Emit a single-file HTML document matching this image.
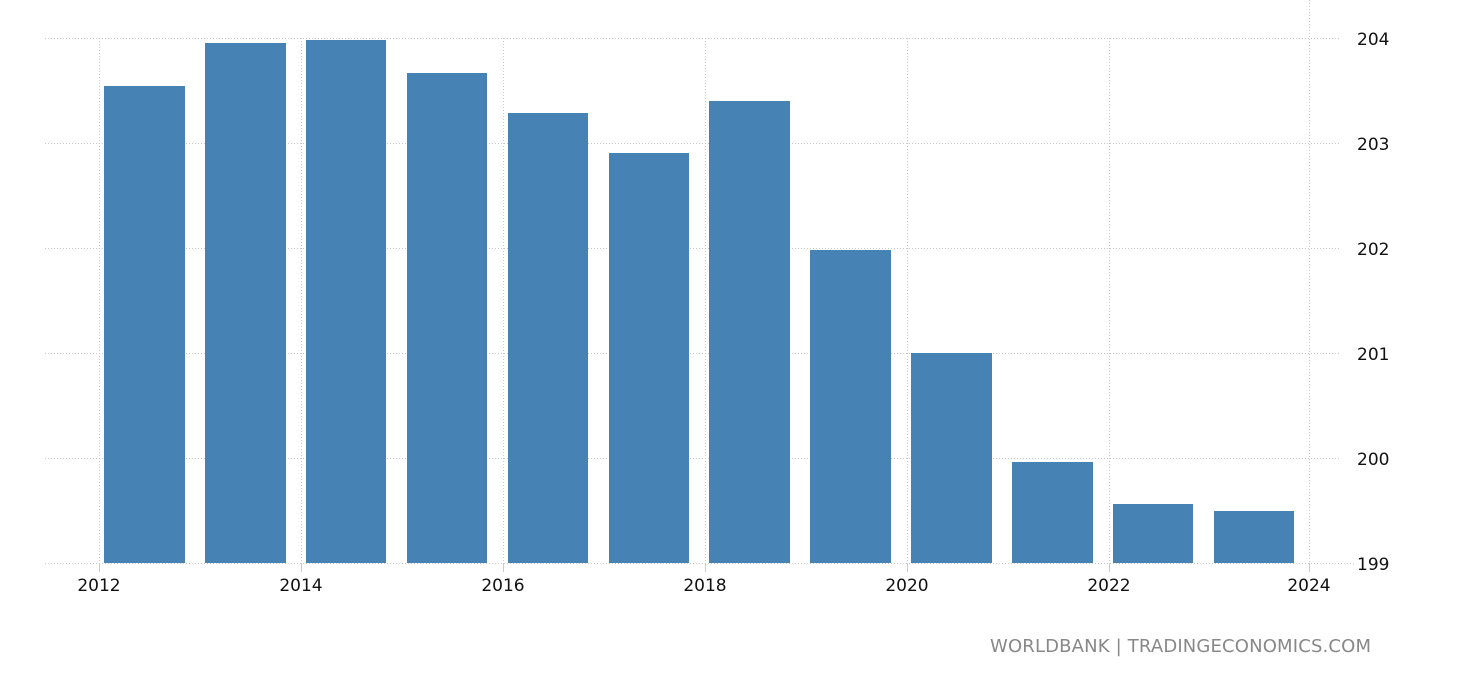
<!DOCTYPE html>
<html><head><style>
html,body{margin:0;padding:0;background:#fff;width:1460px;height:680px;overflow:hidden}
text{font-family:"DejaVu Sans","Liberation Sans",sans-serif}
</style></head><body>
<svg width="1460" height="680" xmlns="http://www.w3.org/2000/svg">
<g stroke="#c8c8c8" stroke-width="1" stroke-dasharray="1,2" fill="none">
<line x1="45" y1="38.5" x2="1340" y2="38.5"/>
<line x1="45" y1="143.5" x2="1340" y2="143.5"/>
<line x1="45" y1="248.5" x2="1340" y2="248.5"/>
<line x1="45" y1="353.5" x2="1340" y2="353.5"/>
<line x1="45" y1="458.5" x2="1340" y2="458.5"/>
<line x1="45" y1="563.5" x2="1355" y2="563.5"/>
<line x1="99.5" y1="38" x2="99.5" y2="563"/>
<line x1="301.5" y1="38" x2="301.5" y2="563"/>
<line x1="503.5" y1="38" x2="503.5" y2="563"/>
<line x1="705.5" y1="38" x2="705.5" y2="563"/>
<line x1="907.5" y1="38" x2="907.5" y2="563"/>
<line x1="1109.5" y1="38" x2="1109.5" y2="563"/>
<line x1="1309.5" y1="0" x2="1309.5" y2="563"/>
</g>
<g stroke="#ccc">
<line x1="99.5" y1="563" x2="99.5" y2="572"/><line x1="301.5" y1="563" x2="301.5" y2="572"/>
<line x1="503.5" y1="563" x2="503.5" y2="572"/><line x1="705.5" y1="563" x2="705.5" y2="572"/>
<line x1="907.5" y1="563" x2="907.5" y2="572"/><line x1="1109.5" y1="563" x2="1109.5" y2="572"/>
<line x1="1309.5" y1="563" x2="1309.5" y2="572"/>
</g>
<g fill="#4682b4">
<rect x="104" y="86" width="81" height="477"/>
<rect x="205" y="43" width="81" height="520"/>
<rect x="306" y="40" width="80" height="523"/>
<rect x="407" y="73" width="80" height="490"/>
<rect x="508" y="113" width="80" height="450"/>
<rect x="609" y="153" width="80" height="410"/>
<rect x="709" y="101" width="81" height="462"/>
<rect x="810" y="250" width="81" height="313"/>
<rect x="911" y="353" width="81" height="210"/>
<rect x="1012" y="462" width="81" height="101"/>
<rect x="1113" y="504" width="80" height="59"/>
<rect x="1214" y="511" width="80" height="52"/>
</g>
<g font-size="17" fill="#111" text-anchor="middle">
<text x="99" y="591">2012</text><text x="301" y="591">2014</text><text x="503" y="591">2016</text>
<text x="705" y="591">2018</text><text x="907" y="591">2020</text><text x="1109" y="591">2022</text>
<text x="1309" y="591">2024</text>
</g>
<g font-size="17" fill="#111">
<text x="1357" y="45">204</text><text x="1357" y="150">203</text><text x="1357" y="255">202</text>
<text x="1357" y="360">201</text><text x="1357" y="465">200</text><text x="1357" y="570">199</text>
</g>
<text x="1371" y="652" font-size="18" fill="#888" text-anchor="end" textLength="381">WORLDBANK | TRADINGECONOMICS.COM</text>
</svg>
</body></html>
